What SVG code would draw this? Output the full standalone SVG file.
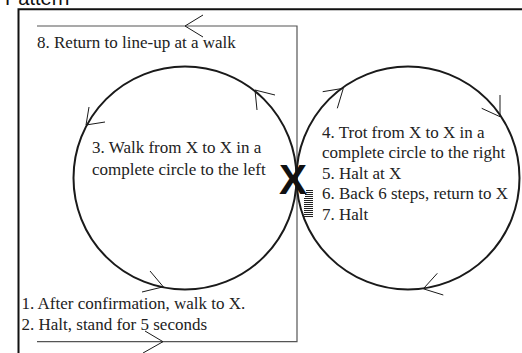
<svg xmlns="http://www.w3.org/2000/svg" width="522" height="353" viewBox="0 0 522 353">
<style>
.frame{fill:none;stroke:#111;stroke-width:2}
.route{fill:none;stroke:#555;stroke-width:1.2}
.loop{fill:none;stroke:#1a1a1a;stroke-width:2}
.chev{fill:none;stroke:#1a1a1a;stroke-width:1}
.hatch{stroke:#222;stroke-width:1}
.lbl{font-family:"Liberation Serif","Times New Roman",serif;font-size:17px;fill:#222}
.title{font-family:"Liberation Sans",Arial,sans-serif;font-size:20px;fill:#111}
.bigx{font-family:"Liberation Sans",Arial,sans-serif;font-weight:bold;font-size:42px;fill:#111}
</style>
<rect width="522" height="353" fill="#fff"/>
<text class="title" x="5" y="4.5">Pattern</text>
<g id="frame">
<path class="frame" d="M18.5,353 V9.2 H522"/>
</g>
<g id="connectors">
<path class="route" d="M37,26 H297 V341.7 H37"/>
<polyline class="chev" points="203,15 185,26 203,37"/>
<polyline class="chev" points="145,331 163,341.7 143,353"/>
<polyline class="chev" points="89,107 86,125 105,122"/>
<polyline class="chev" points="275,95 255,90 257,110"/>
<polyline class="chev" points="150,271 163.3,286.8 142,292"/>
<polyline class="chev" points="322.7,91.7 343.3,88.3 337.3,108.3"/>
<polyline class="chev" points="500,95 500,116.7 481.7,108.3"/>
<polyline class="chev" points="437.3,273.3 423.3,288.8 443.3,295"/>
</g>
<g id="circle-left">
<circle class="loop" cx="185" cy="178" r="111.5"/>
<text class="lbl" x="92" y="153">3. Walk from X to X in a</text>
<text class="lbl" x="92" y="174.5">complete circle to the left</text>
</g>
<g id="circle-right">
<circle class="loop" cx="408" cy="178" r="111.5"/>
<text class="lbl" x="322" y="137.5">4. Trot from X to X in a</text>
<text class="lbl" x="322" y="158">complete circle to the right</text>
<text class="lbl" x="322" y="178.5">5. Halt at X</text>
<text class="lbl" x="322" y="199">6. Back 6 steps, return to X</text>
<text class="lbl" x="322" y="219.5">7. Halt</text>
</g>
<g id="marker-x">
<text class="bigx" x="293" y="194" text-anchor="middle">X</text>
<g class="hatch">
<line x1="306" y1="190.5" x2="313" y2="190.5"/>
<line x1="306" y1="192.5" x2="313" y2="192.5"/>
<line x1="305" y1="194.5" x2="313" y2="194.5"/>
<line x1="305" y1="196.5" x2="313" y2="196.5"/>
<line x1="304" y1="198.5" x2="313" y2="198.5"/>
<line x1="304" y1="200.5" x2="313" y2="200.5"/>
<line x1="304" y1="202.5" x2="313" y2="202.5"/>
<line x1="304" y1="204.5" x2="313" y2="204.5"/>
<line x1="304" y1="206.5" x2="313" y2="206.5"/>
<line x1="304" y1="208.5" x2="313" y2="208.5"/>
<line x1="304" y1="210.5" x2="313" y2="210.5"/>
<line x1="304" y1="212.5" x2="313" y2="212.5"/>
<line x1="304" y1="214.5" x2="313" y2="214.5"/>
<line x1="304" y1="216.5" x2="313" y2="216.5"/>
</g>
</g>
<g id="start-end">
<text class="lbl" x="37" y="48.3">8. Return to line-up at a walk</text>
<text class="lbl" x="21.5" y="309">1. After confirmation, walk to X.</text>
<text class="lbl" x="21.5" y="329.5">2. Halt, stand for 5 seconds</text>
</g>
</svg>
